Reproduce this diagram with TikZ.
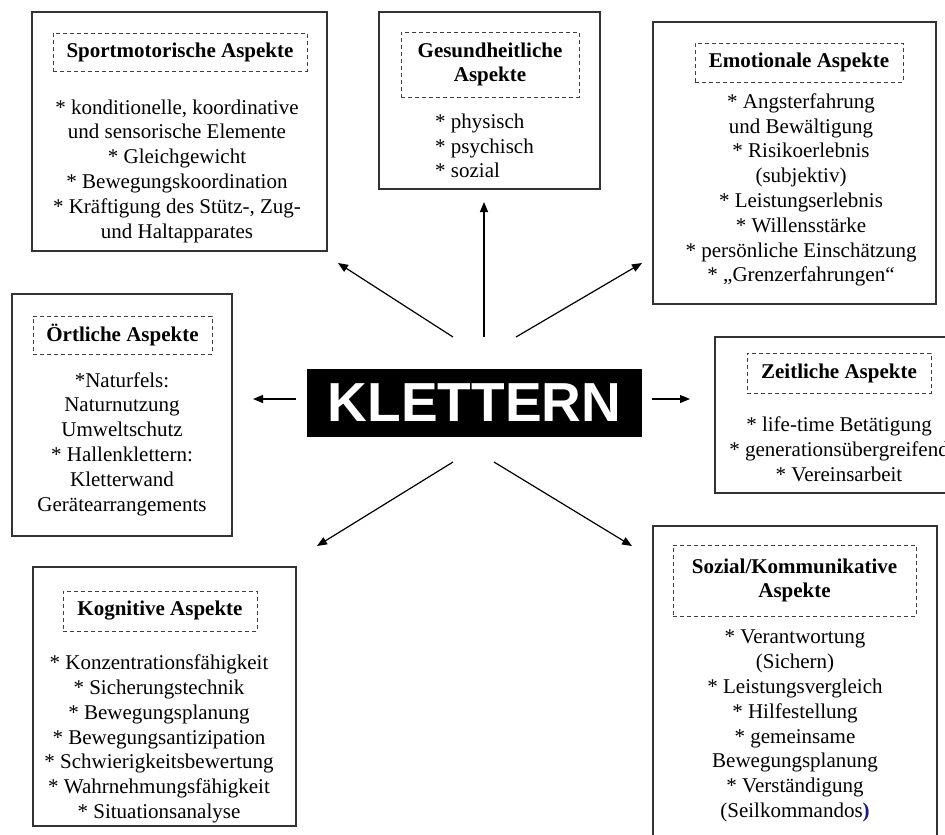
\documentclass[tikz,border=0pt]{standalone}
\usepackage{fontspec}
\setmainfont{Liberation Serif}
\newfontfamily\klfont{Liberation Sans}
\usetikzlibrary{arrows.meta}
\definecolor{navyp}{RGB}{25,25,120}
\begin{document}
\begin{tikzpicture}[x=1pt,y=-1pt,
  obox/.style={draw=black!80, line width=1.3pt, inner sep=0pt},
  dbox/.style={draw=black!75, line width=1pt, dash pattern=on 4pt off 3pt, inner sep=0pt},
  body/.style={font=\fontsize{21}{24.8}\selectfont, align=center, inner sep=0pt},
  ttl/.style={font=\fontsize{21}{24.8}\selectfont\bfseries, align=center, inner sep=0pt},
  arr/.style={-{Triangle[length=10pt,width=8pt]}, line width=1.2pt}
]
\useasboundingbox (0,0) rectangle (945,835);
\clip (0,0) rectangle (945,835);
\fill[white] (0,0) rectangle (945,835);

% center
\node[fill=black, minimum width=335pt, minimum height=68pt, inner sep=0pt,
      text=white, font=\klfont\bfseries\fontsize{55}{60}\selectfont] (kl) at (474.5,403) {KLETTERN};

% Sportmotorische
\node[obox, minimum width=295pt, minimum height=239pt] (sport) at (179.5,131.5) {};
\node[dbox, minimum width=254pt, minimum height=38pt] (sportt) at (180,52) {};
\node[ttl] (sportl) at (sportt) {Sportmotorische Aspekte};
\node[body] (sportb) at (177,171) {* konditionelle, koordinative\\und sensorische Elemente\\* Gleichgewicht\\* Bewegungskoordination\\* Kräftigung des Stütz-, Zug-\\und Haltapparates};

% Gesundheitliche
\node[obox, minimum width=221pt, minimum height=177pt] (ges) at (489.5,100.5) {};
\node[dbox, minimum width=178pt, minimum height=65pt] (gest) at (490,64.5) {};
\node[ttl] (gesl) at (gest) {Gesundheitliche\\Aspekte};
\node[body, align=left, anchor=west] (gesb) at (435,146) {* physisch\\* psychisch\\* sozial};

% Emotionale
\node[obox, minimum width=283pt, minimum height=282pt] (emo) at (794.5,163) {};
\node[dbox, minimum width=208pt, minimum height=39pt] (emot) at (799,62.5) {};
\node[ttl] (emol) at (emot) {Emotionale Aspekte};
\node[body] (emob) at (801,190) {* Angsterfahrung\\und Bewältigung\\* Risikoerlebnis\\(subjektiv)\\* Leistungserlebnis\\* Willensstärke\\* persönliche Einschätzung\\* „Grenzerfahrungen“};

% Oertliche
\node[obox, minimum width=220pt, minimum height=242pt] (ort) at (122,415) {};
\node[dbox, minimum width=179pt, minimum height=38pt] (ortt) at (122.5,335) {};
\node[ttl] (ortl) at (ortt) {Örtliche Aspekte};
\node[body] (ortb) at (122,444) {*Naturfels:\\Naturnutzung\\Umweltschutz\\* Hallenklettern:\\Kletterwand\\Gerätearrangements};

% Zeitliche
\node[obox, minimum width=248pt, minimum height=156pt] (zeit) at (839,415) {};
\node[dbox, minimum width=184pt, minimum height=40pt] (zeitt) at (839,373) {};
\node[ttl] (zeitl) at (zeitt) {Zeitliche Aspekte};
\node[body] (zeitb) at (839,449) {* life-time Betätigung\\* generationsübergreifend\\* Vereinsarbeit};

% Kognitive
\node[obox, minimum width=263pt, minimum height=259pt] (kog) at (164.5,696.5) {};
\node[dbox, minimum width=194pt, minimum height=40pt] (kogt) at (160,611) {};
\node[ttl] (kogl) at (kogt) {Kognitive Aspekte};
\node[body] (kogb) at (159,739) {* Konzentrationsfähigkeit\\* Sicherungstechnik\\* Bewegungsplanung\\* Bewegungsantizipation\\* Schwierigkeitsbewertung\\* Wahrnehmungsfähigkeit\\* Situationsanalyse};

% Sozial
\node[obox, minimum width=284pt, minimum height=340pt] (soz) at (795,696) {};
\node[dbox, minimum width=243pt, minimum height=71pt] (sozt) at (794.5,580.5) {};
\node[ttl] (sozl) at (sozt) {Sozial/Kommunikative\\Aspekte};
\node[body] (sozb) at (795,726) {* Verantwortung\\(Sichern)\\* Leistungsvergleich\\* Hilfestellung\\* gemeinsame\\Bewegungsplanung\\* Verständigung\\(Seilkommandos\textcolor{navyp}{\textbf{)}}};

% arrows
\coordinate (tU) at (484,337);  \coordinate (hU) at (484,202);
\coordinate (tUL) at (453,337); \coordinate (hUL) at (338,263);
\coordinate (tUR) at (516,337); \coordinate (hUR) at (642,263);
\coordinate (tL) at (296,399);  \coordinate (hL) at (253,399);
\coordinate (tR) at (652,399);  \coordinate (hR) at (690,399);
\coordinate (tDL) at (453,462); \coordinate (hDL) at (317,546);
\coordinate (tDR) at (494,462); \coordinate (hDR) at (632,546);
\draw[arr] (tU) -- (hU);
\draw[arr] (tUL) -- (hUL);
\draw[arr] (tUR) -- (hUR);
\draw[arr] (tL) -- (hL);
\draw[arr] (tR) -- (hR);
\draw[arr] (tDL) -- (hDL);
\draw[arr] (tDR) -- (hDR);
\end{tikzpicture}
\end{document}
